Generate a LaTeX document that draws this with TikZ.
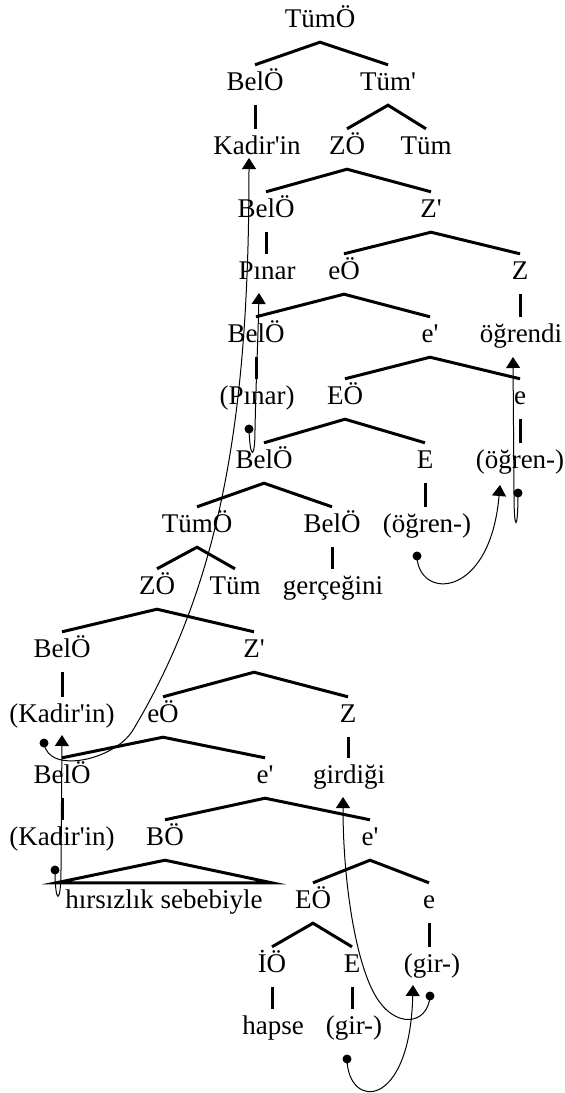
\documentclass[tikz,border=0pt]{standalone}
\usepackage{fontspec}
\setmainfont{Liberation Serif}
\usetikzlibrary{arrows.meta}
\newcommand\myq{\textquotesingle}
\begin{document}
\begin{tikzpicture}[x=1pt,y=-1pt,
  lab/.style={anchor=base, inner sep=0pt, text height=25pt, text depth=15pt, font=\fontsize{27}{30}\selectfont},
  br/.style={line width=3pt, line join=miter},
  mv/.style={line width=1pt, -{Triangle[width=14pt,length=11pt]}},
  dotm/.style={fill=black}]
\useasboundingbox[fill=white] (0,0) rectangle (565,1093);
% row 1
\node[lab] (r1) at (320,27) {TümÖ};
% row 2
\node[lab] (bel1) at (255,90) {BelÖ};
\node[lab] (tumb1) at (388,90) {Tüm\myq};
% row 3
\node[lab] (kadir) at (257,154) {Kadir\myq in};
\node[lab] (zo1) at (347,154) {ZÖ};
\node[lab] (tum1) at (426,154) {Tüm};
% row 4
\node[lab] (bel2) at (266,217) {BelÖ};
\node[lab] (zb1) at (431,217) {Z\myq};
% row 5
\node[lab] (pinar) at (267,279) {Pınar};
\node[lab] (eo1) at (344,279) {eÖ};
\node[lab] (z1) at (520,279) {Z};
% row 6
\node[lab] (bel3) at (256,342) {BelÖ};
\node[lab] (eb1) at (430,342) {e\myq};
\node[lab] (ogrendi) at (521,342) {öğrendi};
% row 7
\node[lab] (pinarb) at (257,404) {(Pınar)};
\node[lab] (EO1) at (345,404) {EÖ};
\node[lab] (e1) at (520,404) {e};
% row 8
\node[lab] (bel4) at (264,468) {BelÖ};
\node[lab] (E1) at (425,468) {E};
\node[lab] (ogra) at (520,468) {(öğren-)};
% row 9
\node[lab] (tumo2) at (197,532) {TümÖ};
\node[lab] (bel5) at (332,532) {BelÖ};
\node[lab] (ogrb) at (427,532) {(öğren-)};
% row 10
\node[lab] (zo2) at (157,594) {ZÖ};
\node[lab] (tum2) at (235,594) {Tüm};
\node[lab] (gercegini) at (333,594) {gerçeğini};
% row 11
\node[lab] (bel6) at (62,657) {BelÖ};
\node[lab] (zb2) at (254,657) {Z\myq};
% row 12
\node[lab] (kadira) at (62,722) {(Kadir\myq in)};
\node[lab] (eo2) at (163,722) {eÖ};
\node[lab] (z2) at (348,722) {Z};
% row 13
\node[lab] (bel7) at (62,783) {BelÖ};
\node[lab] (eb2) at (265,783) {e\myq};
\node[lab] (girdigi) at (349,783) {girdiği};
% row 14
\node[lab] (kadirb) at (62,845) {(Kadir\myq in)};
\node[lab] (bo) at (165,845) {BÖ};
\node[lab] (eb3) at (370,845) {e\myq};
% row 15
\node[lab, inner xsep=9pt] (hs) at (164,908) {hırsızlık sebebiyle};
\node[lab] (EO2) at (313,908) {EÖ};
\node[lab] (e2) at (429,908) {e};
% row 16
\node[lab] (io) at (272,972) {İÖ};
\node[lab] (E2) at (352,972) {E};
\node[lab] (gira) at (432,972) {(gir-)};
% row 17
\node[lab] (hapse) at (273,1034) {hapse};
\node[lab] (girb) at (354,1034) {(gir-)};

% tree branches
\draw[br] (bel1.north) -- (r1.south) -- (tumb1.north);
\draw[br] (bel1.south) -- (bel1.south |- kadir.north);
\draw[br] (zo1.north) -- (tumb1.south) -- (tum1.north);
\draw[br] (bel2.north) -- (zo1.south) -- (zb1.north);
\draw[br] (bel2.south) -- (bel2.south |- pinar.north);
\draw[br] (eo1.north) -- (zb1.south) -- (z1.north);
\draw[br] (z1.south) -- (z1.south |- ogrendi.north);
\draw[br] (bel3.north) -- (eo1.south) -- (eb1.north);
\draw[br] (bel3.south) -- (bel3.south |- pinarb.north);
\draw[br] (EO1.north) -- (eb1.south) -- (e1.north);
\draw[br] (e1.south) -- (e1.south |- ogra.north);
\draw[br] (bel4.north) -- (EO1.south) -- (E1.north);
\draw[br] (E1.south) -- (E1.south |- ogrb.north);
\draw[br] (tumo2.north) -- (bel4.south) -- (bel5.north);
\draw[br] (bel5.south) -- (bel5.south |- gercegini.north);
\draw[br] (zo2.north) -- (tumo2.south) -- (tum2.north);
\draw[br] (bel6.north) -- (zo2.south) -- (zb2.north);
\draw[br] (bel6.south) -- (bel6.south |- kadira.north);
\draw[br] (eo2.north) -- (zb2.south) -- (z2.north);
\draw[br] (z2.south) -- (z2.south |- girdigi.north);
\draw[br] (bel7.north) -- (eo2.south) -- (eb2.north);
\draw[br] (bel7.south) -- (bel7.south |- kadirb.north);
\draw[br] (bo.north) -- (eb2.south) -- (eb3.north);
\draw[br] (bo.south) -- (hs.north east) -- (hs.north west) -- cycle;
\draw[br] (EO2.north) -- (eb3.south) -- (e2.north);
\draw[br] (e2.south) -- (e2.south |- gira.north);
\draw[br] (io.north) -- (EO2.south) -- (E2.north);
\draw[br] (io.south) -- (io.south |- hapse.north);
\draw[br] (E2.south) -- (E2.south |- girb.north);

% movement coordinates
\coordinate (d1) at (44,743);   \coordinate (t1) at (249,158);
\coordinate (d2) at (55,870);   \coordinate (t2) at (62,735);
\coordinate (d3) at (249,429);  \coordinate (t3) at (259,293);
\coordinate (d4) at (518,493);  \coordinate (t4) at (513,357);
\coordinate (d5) at (417,556);  \coordinate (t5) at (500,485);
\coordinate (d6) at (430,996);  \coordinate (t6) at (343,797);
\coordinate (d7) at (347,1059); \coordinate (t7) at (413,985);

\draw[mv] (d1) .. controls (48,775) and (115,760) .. (133,730) .. controls (223,580) and (249,410) .. (t1);
\draw[mv] (d2) .. controls (55,905) and (61,905) .. (61,870) -- (t2);
\draw[mv] (d3) .. controls (250,460) and (255,460) .. (255,430) .. controls (256,380) and (258,340) .. (t3);
\draw[mv] (d4) .. controls (518,532) and (514,532) .. (514,495) -- (t4);
\draw[mv] (d5) .. controls (418,600) and (490,600) .. (t5);
\draw[mv] (d6) .. controls (428,1025) and (395,1030) .. (375,995) .. controls (355,960) and (343,880) .. (t6);
\draw[mv] (d7) .. controls (348,1110) and (410,1110) .. (t7);

\foreach \d in {d1,d2,d3,d4,d5,d6,d7} \fill[dotm] (\d) circle (4.5pt);
\end{tikzpicture}
\end{document}
